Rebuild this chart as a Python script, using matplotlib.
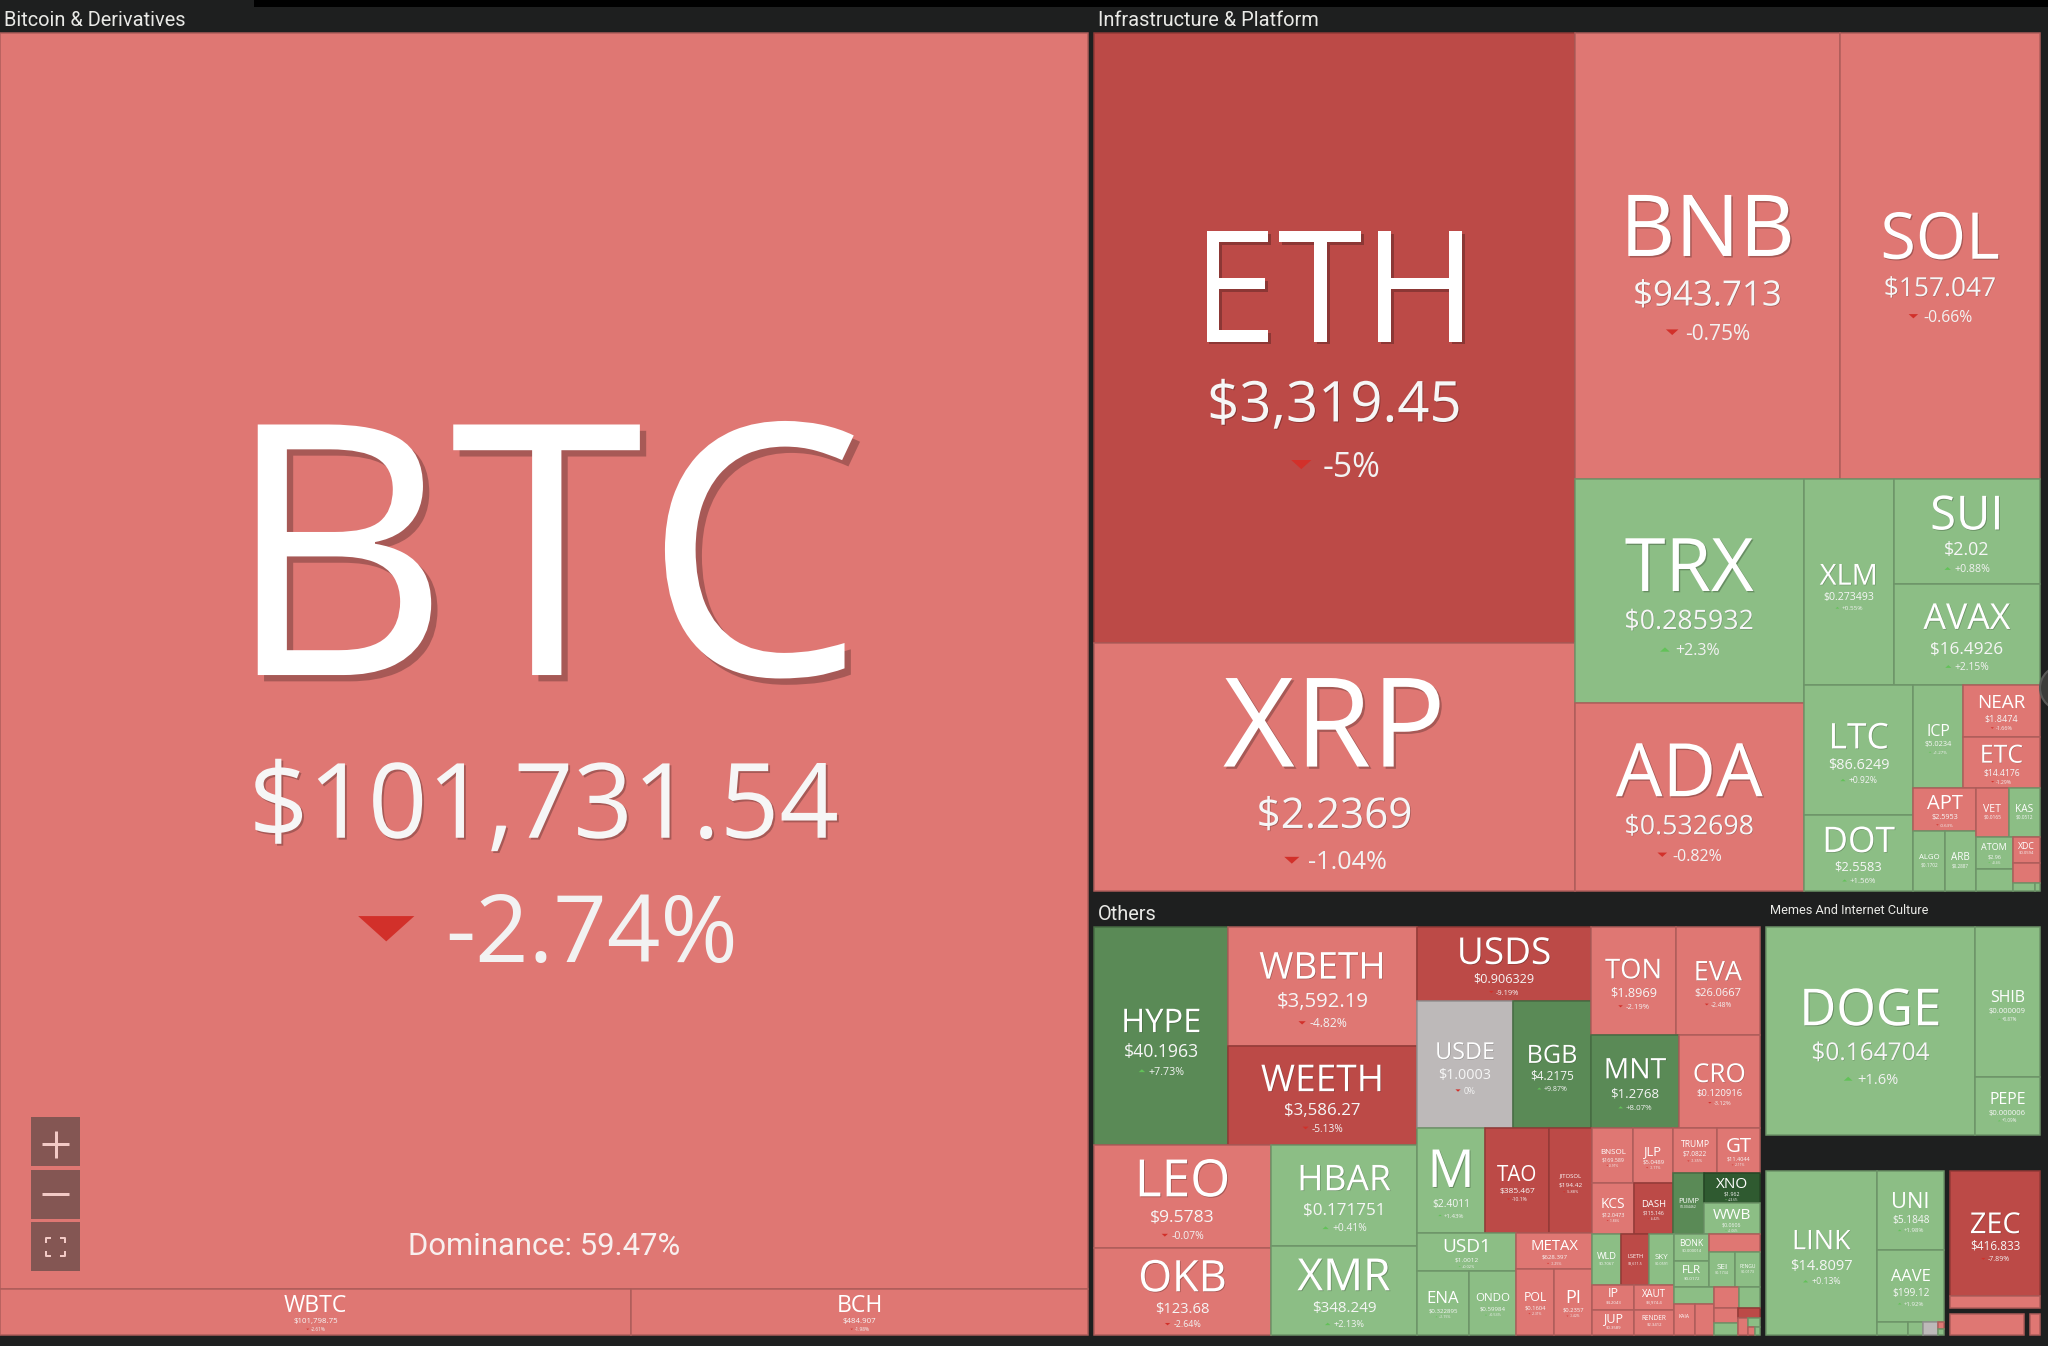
import matplotlib
matplotlib.use('Agg')
import matplotlib.pyplot as plt
import matplotlib.patheffects as pe
from matplotlib.patches import Rectangle, Polygon, Circle
from matplotlib.textpath import TextPath
from matplotlib.font_manager import FontProperties

# Данные: тикер, цена, изменение за сутки (%), вес плитки (капитализация в условных единицах)
btc_names = ['BTC', 'WBTC', 'BCH']
btc_prices = ['$101,731.54', '$101,798.75', '$484.907']
btc_changes = [-2.74, -2.61, -1.98]
btc_weights = [1412.0, 30.0, 21.7]
dominance = 59.47

infra_names = ['ETH', 'XRP', 'BNB', 'SOL', 'TRX', 'ADA', 'XLM', 'SUI', 'AVAX', 'LTC',
               'DOT', 'ICP', 'NEAR', 'ETC', 'APT', 'ALGO', 'ARB', 'VET', 'KAS', 'ATOM',
               'FIL', 'XDC', 'STX', 'INJ', 'OP']
infra_prices = ['$3,319.45', '$2.2369', '$943.713', '$157.047', '$0.285932', '$0.532698',
                '$0.273493', '$2.02', '$16.4926', '$86.6249', '$2.5583', '$5.0234', '$1.8474',
                '$14.4176', '$2.5953', '$0.1702', '$0.2887', '$0.0165', '$0.0512', '$2.96',
                '$1.73', '$0.0594', '$0.41', '$7.12', '$0.41']
infra_changes = [-5.0, -1.04, -0.75, -0.66, 2.3, -0.82, 0.55, 0.88, 2.15, 0.92,
                 1.56, 1.27, -1.66, -1.29, -0.63, 1.1, 0.9, -0.48, 1.2, 0.4,
                 0.5, -0.7, -0.9, 1.0, 0.6]
infra_weights = [307.66, 125.08, 123.93, 93.53, 53.79, 45.14, 19.44, 16.07, 15.47, 14.99,
                 8.77, 5.35, 4.28, 4.12, 2.78, 2.01, 1.95, 1.65, 1.59, 1.26,
                 0.84, 0.75, 0.59, 0.18, 0.04]

others_names = ['HYPE', 'WBETH', 'WEETH', 'LEO', 'OKB', 'HBAR', 'XMR', 'USDS', 'USDE', 'BGB',
                'TON', 'EVA', 'MNT', 'CRO', 'M', 'TAO', 'JITOSOL', 'USD1', 'ENA', 'ONDO',
                'METAX', 'POL', 'PI', 'BNSOL', 'JLP', 'KCS', 'DASH', 'TRUMP', 'GT', 'PUMP',
                'XNO', 'WWB', 'WLD', 'LSETH', 'SKY', 'IP', 'JUP', 'XAUT', 'RENDER', 'BONK',
                'FLR', 'WLFI', 'SEI', 'PENGU', 'AB', 'KAIA', 'SYRUP', 'CAKE', 'QNT', 'JST',
                'IOTA', 'THETA', 'NEXO', 'SUN', 'BTT', 'GHO']
others_prices = ['$40.1963', '$3,592.19', '$3,586.27', '$9.5783', '$123.68', '$0.171751',
                 '$348.249', '$0.906329', '$1.0003', '$4.2175', '$1.8969', '$26.0667',
                 '$1.2768', '$0.120916', '$2.4011', '$385.467', '$194.42', '$1.0012',
                 '$0.322895', '$0.59984', '$628.397', '$0.1604', '$0.2357', '$169.589',
                 '$5.0489', '$12.0473', '$115.146', '$7.0822', '$11.4044', '$0.004462',
                 '$1.962', '$0.0606', '$0.7067', '$3,611.5', '$0.0591', '$4.2043', '$0.3589',
                 '$3,974.4', '$2.3412', '$0.000014', '$0.0172', '$0.1318', '$0.1734',
                 '$0.0173', '$0.0062', '$0.0921', '$0.4011', '$2.31', '$78.4', '$0.0301',
                 '$0.1388', '$0.5112', '$1.18', '$0.0188', '$0.0000006', '$0.9998']
others_changes = [7.73, -4.82, -5.13, -0.07, -2.64, 0.41, 2.13, -9.19, 0.0, 9.87,
                  -2.19, -2.48, 8.07, -3.12, 1.43, -10.1, -5.88, 0.02, 1.15, 0.53,
                  -1.25, -2.31, -1.42, -0.91, -1.17, -1.84, -6.42, -1.35, -2.11, 6.2,
                  24.6, 1.06, 2.31, -7.1, 1.02, -3.05, -2.02, -0.41, -2.57, 1.48,
                  2.21, -1.2, 1.37, 2.05, 1.2, -1.5, -0.8, -2.1, 0.7, -1.1,
                  0.9, -6.2, -0.6, 0.4, -0.9, 1.3]
others_weights = [32.08, 24.70, 20.55, 20.02, 16.91, 16.19, 14.27, 14.14, 13.39, 10.88,
                  10.08, 9.96, 8.99, 8.27, 7.84, 7.38, 4.96, 4.13, 3.65, 3.30,
                  3.00, 2.75, 2.75, 2.48, 2.42, 2.35, 2.18, 2.12, 2.09, 2.06,
                  1.91, 1.91, 1.59, 1.59, 1.37, 1.15, 1.15, 1.09, 1.09, 1.03,
                  1.02, 0.99, 0.96, 0.96, 0.77, 0.71, 0.66, 0.57, 0.47, 0.40,
                  0.31, 0.24, 0.18, 0.12, 0.07, 0.04]

memes_names = ['DOGE', 'SHIB', 'PEPE']
memes_prices = ['$0.164704', '$0.000009', '$0.000006']
memes_changes = [1.6, 0.87, 1.09]
memes_weights = [52.11, 11.69, 4.52]

defi_names = ['LINK', 'UNI', 'AAVE', 'CRV', 'LDO', 'USDG', 'MORPHO', 'PENDLE']
defi_prices = ['$14.8097', '$5.1848', '$199.12', '$0.5123', '$0.8871', '$1.0001', '$1.91', '$2.87']
defi_changes = [0.13, 1.98, 1.92, 1.1, 0.8, 0.0, -1.3, 0.6]
defi_weights = [22.95, 6.72, 6.13, 0.51, 0.25, 0.25, 0.057, 0.05]

privacy_names = ['ZEC', 'DCR']
privacy_prices = ['$416.833', '$17.42']
privacy_changes = [-7.89, -1.4]
privacy_weights = [15.13, 1.39]

rwa_names = ['SYRUP']
rwa_prices = ['$0.4011']
rwa_changes = [-2.0]
rwa_weights = [2.15]

ai_names = ['FET']
ai_prices = ['$0.2871']
ai_changes = [-1.1]
ai_weights = [0.43]

groups = [
    ('Bitcoin & Derivatives', btc_names, btc_prices, btc_changes, btc_weights),
    ('Infrastructure & Platform', infra_names, infra_prices, infra_changes, infra_weights),
    ('Others', others_names, others_prices, others_changes, others_weights),
    ('Memes And Internet Culture', memes_names, memes_prices, memes_changes, memes_weights),
    ('Decentralized Finance (DeFi)', defi_names, defi_prices, defi_changes, defi_weights),
    ('Privacy', privacy_names, privacy_prices, privacy_changes, privacy_weights),
    ('Real World Assets', rwa_names, rwa_prices, rwa_changes, rwa_weights),
    ('Artificial Intelligence', ai_names, ai_prices, ai_changes, ai_weights),
]

W, H = 2048, 1346
PT = 0.72          # пикселей -> пунктов при dpi=100
PAD, HEADER = 3, 30
BG = '#1e1f1f'
TICK_FONT = 'Open Sans'
HEAD_FONT = ['Liberation Sans Narrow', 'Roboto']
tick_prop = FontProperties(family=TICK_FONT)


def tile_color(c):
    if abs(c) < 0.01:
        return '#bdb9b9'
    if c <= -5:
        return '#bc4a47'
    if c < 0:
        return '#df7773'
    if c < 5:
        return '#8cbe85'
    if c < 15:
        return '#5a8a56'
    return '#2f5a30'


def shade(color, k):
    r, g, b = matplotlib.colors.to_rgb(color)
    return (r * k, g * k, b * k)


def fmt_change(c):
    s = f'{abs(c):.2f}'.rstrip('0').rstrip('.')
    sign = '+' if c > 0 else ('-' if c < 0 else '')
    return sign + s + '%'


# Разбиение как у d3.treemapBinary
def binary(values, x0, y0, x1, y1):
    n = len(values)
    sums = [0.0]
    for v in values:
        sums.append(sums[-1] + v)
    rects = [None] * n

    def part(i, j, value, x0, y0, x1, y1):
        if i >= j - 1:
            rects[i] = (x0, y0, x1, y1)
            return
        target = value / 2 + sums[i]
        k, hi = i + 1, j - 1
        while k < hi:
            mid = (k + hi) // 2
            if sums[mid] < target:
                k = mid + 1
            else:
                hi = mid
        if target - sums[k - 1] < sums[k] - target and i + 1 < k:
            k -= 1
        left = sums[k] - sums[i]
        right = value - left
        if x1 - x0 > y1 - y0:
            xk = (x0 * right + x1 * left) / value
            part(i, k, left, x0, y0, xk, y1)
            part(k, j, right, xk, y0, x1, y1)
        else:
            yk = (y0 * right + y1 * left) / value
            part(i, k, left, x0, y0, x1, yk)
            part(k, j, right, x0, yk, x1, y1)

    part(0, n, sums[-1], x0, y0, x1, y1)
    return rects


def draw_label(ax, name, price, change, x0, y0, x1, y1, fc, big=False):
    w, h = x1 - x0, y1 - y0
    if w < 20 or h < 24:
        return
    cx, cy = (x0 + x1) / 2, (y0 + y1) / 2
    ft = min(w / (len(name) + 0.1), 0.5 * h)
    fp = min(w / (0.95 * len(price)), 0.17 * h)
    fcg = fp * (0.9 if big else 0.6)
    ct, cp, cc = 0.72 * ft, 0.72 * fp, 0.72 * fcg
    g1, g2 = max(0.7 * fp, 0.25 * ft), 0.55 * fp
    block = ct + g1 + cp + g2 + cc
    top = cy - block / 2 + 0.025 * h
    bt = top + ct
    bp = bt + g1 + cp
    bc = bp + g2 + cc
    sh = shade(fc, 0.72)

    d = ft * 0.018 * PT
    fx = [pe.withSimplePatchShadow(offset=(d, -d), shadow_rgbFace=sh, alpha=0.9)] if d > 0.3 else []
    ax.text(cx, bt, name, fontsize=ft * PT, family=TICK_FONT, color='white',
            ha='center', va='baseline', path_effects=fx, zorder=5)
    if fp >= 3.5:
        d = fp * 0.018 * PT
        fx = [pe.withSimplePatchShadow(offset=(d, -d), shadow_rgbFace=sh, alpha=0.9)] if d > 0.3 else []
        ax.text(cx, bp, price, fontsize=fp * PT, family=TICK_FONT, color='#f6f6f6',
                ha='center', va='baseline', path_effects=fx, zorder=5)
    if fcg >= 3:
        txt = fmt_change(change)
        tw_text = TextPath((0, 0), txt, size=fcg, prop=tick_prop).get_extents().width
        tw, th, gap = 0.6 * fcg, 0.27 * fcg, 0.33 * fcg
        start = cx - (tw + gap + tw_text) / 2
        mid = bc - 0.36 * fcg
        if change > 0:
            tri = [(start, mid + th / 2), (start + tw, mid + th / 2), (start + tw / 2, mid - th / 2)]
            tcol = '#62c258'
        else:
            tri = [(start, mid - th / 2), (start + tw, mid - th / 2), (start + tw / 2, mid + th / 2)]
            tcol = '#d2302a'
        ax.add_patch(Polygon(tri, closed=True, fc=tcol, ec='none', zorder=5))
        ax.text(start + tw + gap, bc, txt, fontsize=fcg * PT, family=TICK_FONT,
                color='#f2f2f2', ha='left', va='baseline', zorder=5)


fig = plt.figure(figsize=(W / 100, H / 100), dpi=100, facecolor=BG)
ax = fig.add_axes([0, 0, 1, 1])
ax.set_xlim(0, W)
ax.set_ylim(H, 0)
ax.axis('off')
ax.set_facecolor(BG)

# Верхние группы
totals = [sum(g[4]) for g in groups]
gorder = sorted(range(len(groups)), key=lambda i: -totals[i])
grects = binary([totals[i] for i in gorder], -3, 0, 2043, 1338)

for gi, (x0, y0, x1, y1) in zip(gorder, grects):
    title, names, prices, changes, weights = groups[gi]
    has_header = (y1 - y0) > 100
    ix0, ix1, iy1 = x0 + PAD, x1 - PAD, y1 - PAD
    iy0 = y0 + PAD + HEADER if has_header else y0 + PAD
    hfs = min(20, (x1 - x0) / 22)
    if has_header and hfs >= 10:
        ax.text(x0 + PAD + 4, y0 + 8 + 0.9 * hfs, title, fontsize=hfs * PT,
                family=HEAD_FONT, color='#e9e9e6', ha='left', va='baseline')

    order = sorted(range(len(names)), key=lambda i: -weights[i])
    lrects = binary([weights[i] for i in order], ix0, iy0, ix1, iy1)
    for li, (lx0, ly0, lx1, ly1) in zip(order, lrects):
        fc = tile_color(changes[li])
        ax.add_patch(Rectangle((lx0, ly0), lx1 - lx0, ly1 - ly0, fc=fc,
                               ec=shade(fc, 0.78), lw=1.5 * PT, zorder=2))
        big = names[li] == 'BTC'
        draw_label(ax, names[li], prices[li], changes[li], lx0, ly0, lx1, ly1, fc, big)
        if big:
            ax.text((lx0 + lx1) / 2, ly1 - 34, f'Dominance: {dominance}%',
                    fontsize=31 * PT, family=HEAD_FONT, color='#f8efee',
                    ha='center', va='baseline', zorder=5)

# Кнопки масштабирования в левом нижнем углу
btn = '#845653'
icon = '#f3cac6'
for by in (1117, 1170, 1222):
    ax.add_patch(Rectangle((31, by), 49, 49, fc=btn, ec='none', zorder=6))
ax.plot([42, 69], [1144, 1144], color=icon, lw=3 * PT, zorder=7, solid_capstyle='butt')
ax.plot([55.5, 55.5], [1130.5, 1157.5], color=icon, lw=3 * PT, zorder=7, solid_capstyle='butt')
ax.plot([42, 69], [1194, 1194], color=icon, lw=3 * PT, zorder=7, solid_capstyle='butt')
for sx, sy in ((46, 1238), (65, 1238), (46, 1256), (65, 1256)):
    dx = 4 if sx < 55 else -4
    dy = 4 if sy < 1247 else -4
    ax.plot([sx + dx, sx, sx], [sy, sy, sy + dy], color=icon, lw=2 * PT, zorder=7)

# Прочие элементы интерфейса
ax.add_patch(Rectangle((254, 0), W - 254, 7, fc='black', ec='none', zorder=8))
ax.add_patch(Circle((2062, 688), 22, fc='#3c3c3a', ec='#5a5a58', lw=1.5, zorder=8))

fig.savefig('out.png', dpi=100, facecolor=BG)
